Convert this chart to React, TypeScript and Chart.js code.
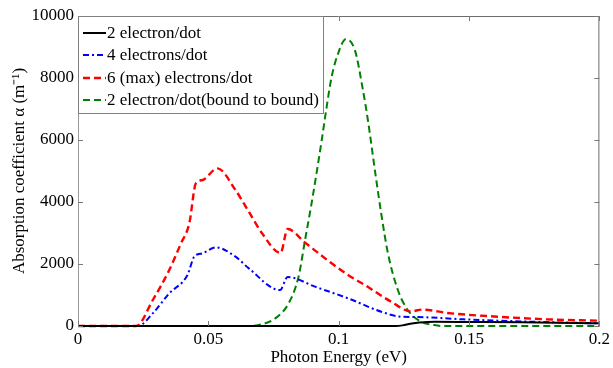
import React, { useEffect, useRef } from "react";
import { Chart, registerables } from "chart.js";
Chart.register(...registerables);

// ---- data ----
const xTickValues = [0, 0.05, 0.1, 0.15, 0.2];
const yTickValues = [0, 2000, 4000, 6000, 8000, 10000];
const seriesLabels = [
  "2 electron/dot",
  "4 electrons/dot",
  "6 (max) electrons/dot",
  "2 electron/dot(bound to bound)",
];
const xTitle = "Photon Energy (eV)";
const yTitle = "Absorption coefficient \u03b1 (m\u207b\u00b9)";

const twoEnergy = [0, 0.122, 0.1245, 0.1275, 0.131, 0.137, 0.15, 0.17, 0.19, 0.2];
const twoAlpha = [0, 0, 20, 70, 110, 135, 130, 120, 100, 86];

const fourEnergy = [0, 0.023, 0.0287, 0.035, 0.042, 0.0446, 0.0478, 0.0528, 0.0604, 0.0655, 0.0775, 0.0804, 0.0909, 0.1036, 0.1163, 0.1239, 0.13, 0.148, 0.1733, 0.2];
const fourAlpha = [0, 0, 409, 1054, 1645, 2237, 2344, 2538, 2237, 1860, 1160, 1580, 1269, 892, 462, 301, 290, 215, 140, 86];

const sixEnergy = [0, 0.0223, 0.0287, 0.035, 0.0395, 0.0427, 0.0452, 0.0478, 0.0535, 0.0604, 0.0655, 0.0706, 0.0777, 0.0804, 0.0871, 0.0973, 0.1036, 0.11, 0.1201, 0.1277, 0.132, 0.1417, 0.1608, 0.1798, 0.2];
const sixAlpha = [0, 0, 839, 1806, 2667, 3312, 4602, 4710, 5086, 4387, 3688, 2990, 2355, 3130, 2688, 2022, 1645, 1323, 785, 470, 530, 420, 300, 215, 170];

const boundEnergy = [0, 0.066, 0.0693, 0.0757, 0.0808, 0.0846, 0.0871, 0.0896, 0.0916, 0.0935, 0.0954, 0.0973, 0.0998, 0.1027, 0.1062, 0.1093, 0.1112, 0.1141, 0.1163, 0.1189, 0.1227, 0.1265, 0.1315, 0.1366, 0.14, 0.2];
const boundAlpha = [0, 0, 32, 248, 732, 1591, 2774, 3957, 4978, 6000, 7075, 8042, 8797, 9248, 8903, 7613, 6645, 4900, 3634, 2344, 1161, 516, 140, 30, 0, 0];

const FONT = "'Liberation Serif', 'Times New Roman', serif";

function pts(xs: number[], ys: number[]) {
  return xs.map((x, i) => ({ x, y: ys[i] }));
}

const framePlugin = {
  id: "frameAndLegend",
  afterDatasetsDraw(chart: any) {
    const { ctx, chartArea } = chart;
    const { left, right, top, bottom } = chartArea;
    const xs = chart.scales.x;
    const ys = chart.scales.y;
    ctx.save();
    ctx.lineWidth = 1;
    ctx.setLineDash([]);
    // frame
    ctx.strokeStyle = "#9a9a9a";
    ctx.beginPath();
    ctx.moveTo(left + 0.5, top);
    ctx.lineTo(left + 0.5, bottom);
    ctx.stroke();
    ctx.strokeStyle = "#6e6e6e";
    ctx.beginPath();
    ctx.moveTo(left, top + 0.5);
    ctx.lineTo(right - 0.5, top + 0.5);
    ctx.lineTo(right - 0.5, bottom);
    ctx.stroke();
    // tick marks inside
    ctx.strokeStyle = "#7a7a7a";
    const tl = 5;
    xTickValues.forEach((v) => {
      const px = Math.round(xs.getPixelForValue(v)) + 0.5;
      ctx.beginPath();
      ctx.moveTo(px, bottom);
      ctx.lineTo(px, bottom - tl);
      ctx.moveTo(px, top);
      ctx.lineTo(px, top + tl);
      ctx.stroke();
    });
    yTickValues.forEach((v) => {
      const py = Math.round(ys.getPixelForValue(v)) + 0.5;
      ctx.beginPath();
      ctx.moveTo(left, py);
      ctx.lineTo(left + tl, py);
      ctx.moveTo(right, py);
      ctx.lineTo(right - tl, py);
      ctx.stroke();
    });
    // legend box
    const bx = left + 0.5;
    const by = top + 0.5;
    const bw = 245;
    const bh = 97;
    ctx.fillStyle = "#ffffff";
    ctx.fillRect(bx, by, bw, bh);
    ctx.strokeStyle = "#808080";
    ctx.strokeRect(bx, by, bw, bh);
    const rows = [top + 17, top + 39, top + 62, top + 84];
    chart.data.datasets.forEach((ds: any, i: number) => {
      const y = rows[i];
      ctx.save();
      ctx.strokeStyle = ds.borderColor;
      ctx.lineWidth = ds.borderWidth;
      ctx.setLineDash(ds.borderDash || []);
      ctx.beginPath();
      ctx.moveTo(left + 5, y);
      ctx.lineTo(left + 28, y);
      ctx.stroke();
      ctx.restore();
      ctx.fillStyle = "#000";
      ctx.font = "17px " + FONT;
      ctx.textBaseline = "middle";
      ctx.textAlign = "left";
      ctx.fillText(ds.label, left + 29, y + 1);
    });
    ctx.restore();
  },
};

export default function App() {
  const ref = useRef<HTMLCanvasElement | null>(null);
  useEffect(() => {
    document.body.style.margin = "0";
    const canvas = ref.current;
    if (!canvas) return;
    const chart = new Chart(canvas, {
      type: "line",
      data: {
        datasets: [
          {
            label: seriesLabels[0],
            data: pts(twoEnergy, twoAlpha),
            borderColor: "#000000",
            borderWidth: 2,
            borderDash: [],
          },
          {
            label: seriesLabels[1],
            data: pts(fourEnergy, fourAlpha),
            borderColor: "#0000ff",
            borderWidth: 2,
            borderDash: [6, 3, 2, 3],
          },
          {
            label: seriesLabels[2],
            data: pts(sixEnergy, sixAlpha),
            borderColor: "#ff0000",
            borderWidth: 2.4,
            borderDash: [7, 4],
          },
          {
            label: seriesLabels[3],
            data: pts(boundEnergy, boundAlpha),
            borderColor: "#008000",
            borderWidth: 2,
            borderDash: [7, 4],
          },
        ].map((d) => ({
          ...d,
          pointRadius: 0,
          fill: false,
          cubicInterpolationMode: "monotone" as const,
          clip: false as any,
        })),
      },
      options: {
        animation: false,
        responsive: false,
        devicePixelRatio: 1,
        layout: { padding: { left: 0, top: 16, right: 10, bottom: 0 } },
        plugins: { legend: { display: false }, tooltip: { enabled: false } },
        scales: {
          x: {
            type: "linear",
            min: 0,
            max: 0.2,
            afterFit: (s: any) => {
              s.height = 42;
            },
            afterBuildTicks: (s: any) => {
              s.ticks = xTickValues.map((v) => ({ value: v }));
            },
            grid: { display: false, drawTicks: false },
            border: { display: false },
            ticks: {
              color: "#000",
              font: { family: FONT, size: 17 },
              padding: 3,
              maxRotation: 0,
              autoSkip: false,
              callback: (v: any) => String(Number(Number(v).toFixed(2))),
            },
            title: {
              display: true,
              text: xTitle,
              color: "#000",
              font: { family: FONT, size: 17 },
              padding: { top: 0, bottom: 0 },
            },
          },
          y: {
            type: "linear",
            min: 0,
            max: 10000,
            afterFit: (s: any) => {
              s.width = 78;
            },
            afterBuildTicks: (s: any) => {
              s.ticks = yTickValues.map((v) => ({ value: v }));
            },
            grid: { display: false, drawTicks: false },
            border: { display: false },
            ticks: {
              color: "#000",
              font: { family: FONT, size: 17 },
              padding: 4,
              autoSkip: false,
              callback: (v: any) => String(v),
            },
            title: {
              display: true,
              text: yTitle,
              color: "#000",
              font: { family: FONT, size: 17 },
              padding: { top: 9, bottom: 0 },
            },
          },
        },
      },
      plugins: [framePlugin],
    } as any);
    return () => chart.destroy();
  }, []);
  return (
    <div style={{ width: 613, height: 368, background: "#fff" }}>
      <canvas ref={ref} width={613} height={368} style={{ display: "block" }} />
    </div>
  );
}
